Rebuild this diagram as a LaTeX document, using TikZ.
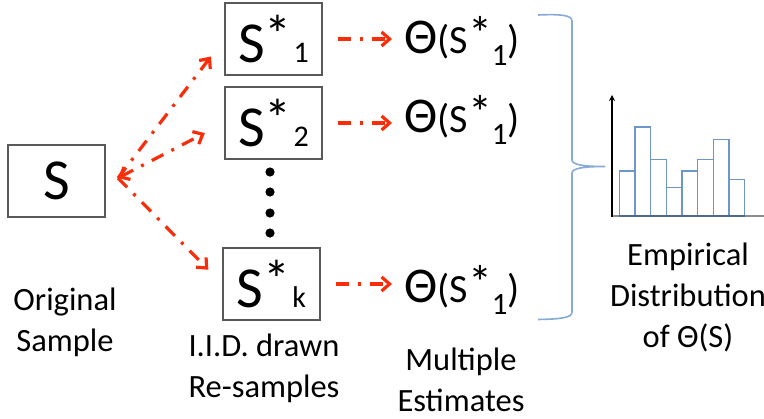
\documentclass[tikz,border=0pt]{standalone}
\usepackage{fontspec}
\setmainfont{Carlito}
\usetikzlibrary{arrows.meta}
\usepackage{xcolor}
\definecolor{dashred}{RGB}{250,45,10}
\definecolor{barblue}{RGB}{110,150,200}
\definecolor{braceblue}{RGB}{135,170,215}
\newcommand{\resample}[1]{{\fontsize{29}{29}\selectfont S}\raisebox{4.5pt}{\fontsize{27}{27}\selectfont *}\hspace{1pt}{\fontsize{15}{15}\selectfont #1}}
\newcommand{\estimate}[1]{{\fontsize{25}{25}\selectfont Θ}{\fontsize{20}{20}\selectfont (S}\raisebox{1.5pt}{\fontsize{24}{24}\selectfont *}\raisebox{-6pt}{\fontsize{15.5}{15.5}\selectfont #1}{\fontsize{20}{20}\selectfont )}}

\begin{document}
\begin{tikzpicture}[x=0.5pt,y=-0.5pt,
box/.style={draw=black!65,line width=0.6pt,minimum width=48.5pt,minimum height=36pt,inner sep=0pt},
est/.style={anchor=base west,inner sep=0pt},
lbl/.style={align=center,font=\fontsize{16.25}{20.5}\selectfont},
dashdot/.style={dashred,line width=1.6pt,dash pattern=on 6.5pt off 4.5pt on 1.5pt off 4.5pt},
tip/.style={-{Straight Barb[length=4pt,width=7pt]}},
dot/.style={circle,fill=black,minimum size=4.6pt,inner sep=0pt}]
\useasboundingbox (0,0) rectangle (764,418);

\node[box] (s0) at (56.5,181) {\fontsize{29}{29}\selectfont S};
\node[box] (s1) at (273.5,39) {\resample{1}};
\node[box] (s2) at (273.5,123) {\resample{2}};
\node[box] (sk) at (271.5,284) {\resample{k}};
\foreach \y [count=\i] in {172,192,213,233}
  \node[dot] (d\i) at (270,\y) {};

\coordinate (fork) at (118,178);
\draw[dashdot,tip,shorten >=11pt] (fork) -- (s1.west);
\draw[dashdot,{Straight Barb[length=4pt,width=7pt]}-{Straight Barb[length=4pt,width=7pt]},shorten >=11pt] (fork) -- (s2.west);
\draw[dashdot,tip,shorten >=10pt] (fork) -- (sk.west);

\node[est] (t1) at (404,53) {\estimate{1}};
\node[est] (t2) at (404,132) {\estimate{1}};
\node[est] (tk) at (404,302) {\estimate{1}};
\draw[dashdot,tip,shorten <=7.5pt,shorten >=6pt] (s1.east) -- (s1.east -| t1.west);
\draw[dashdot,tip,shorten <=7.5pt,shorten >=6pt] (s2.east) -- (s2.east -| t2.west);
\draw[dashdot,tip,shorten <=7.5pt,shorten >=6pt] (sk.east) -- (sk.east -| tk.west);

% brace
\draw[braceblue,line width=0.8pt] (538,15) .. controls (560,14) and (572,15) .. (572,21) -- (572,160)
  .. controls (572,165) and (585,166.5) .. (605,166.5)
  .. controls (585,166.5) and (572,168) .. (572,173) -- (572,312)
  .. controls (572,318) and (560,319) .. (538,319.5);

% histogram
\draw[black!45,line width=0.8pt] (612,216) -- (764,216);
\foreach \h [count=\i from 0] in {171,126.7,159.3,187.3,171,159.3,139.3,179.3}
  \draw[barblue,line width=0.8pt] ({619.3+15.67*\i},216) rectangle ({619.3+15.67*(\i+1)},\h);
\draw[barblue!70!black,line width=0.9pt] (619.3,216) -- (744.7,216);
\draw[line width=0.6pt,-{Stealth[length=3pt,width=3pt]}] (612,216.5) -- (612,95);

\node[lbl] (orig) at (65,322) {Original\\Sample};
\node[lbl] (iid) at (264,368) {I.I.D. drawn\\Re-samples};
\node[lbl] (mult) at (461,380) {Multiple\\Estimates};
\node[lbl] (emp) at (688,297) {Empirical\\Distribution\\of Θ(S)};
\end{tikzpicture}
\end{document}
